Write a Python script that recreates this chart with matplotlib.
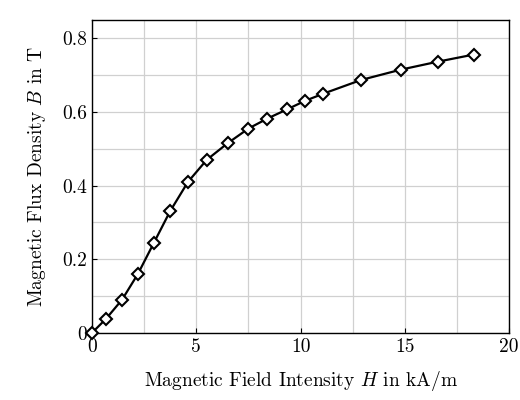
import matplotlib
matplotlib.use("Agg")
import matplotlib.pyplot as plt

# Data
H_kAm = [0, 0.67, 1.44, 2.2, 2.97, 3.74, 4.6, 5.5, 6.5, 7.5, 8.4, 9.35, 10.2, 11.1, 12.9, 14.8, 16.6, 18.3]
B_T = [0, 0.038, 0.09, 0.16, 0.245, 0.33, 0.41, 0.47, 0.515, 0.555, 0.582, 0.607, 0.63, 0.65, 0.687, 0.715, 0.737, 0.756]
x_ticks = [0, 5, 10, 15, 20]
y_ticks = [0, 0.2, 0.4, 0.6, 0.8]

plt.rcParams['font.family'] = 'serif'
plt.rcParams['font.serif'] = ['cmr10', 'DejaVu Serif']
plt.rcParams['mathtext.fontset'] = 'cm'
plt.rcParams['axes.formatter.use_mathtext'] = True

fig, ax = plt.subplots(figsize=(5.2, 4.0), dpi=100)
fig.subplots_adjust(left=0.177, right=0.979, top=0.95, bottom=0.168)

ax.plot(H_kAm, B_T, color='black', lw=1.6, marker='D', markersize=6,
        markerfacecolor='white', markeredgecolor='black', markeredgewidth=1.5,
        zorder=3, clip_on=False)

ax.set_xlim(0, 20)
ax.set_ylim(0, 0.85)
ax.set_xticks(x_ticks)
ax.set_xticklabels([str(v) for v in x_ticks])
ax.set_yticks(y_ticks)
ax.set_yticklabels(['0', '0.2', '0.4', '0.6', '0.8'])
ax.set_xticks([2.5, 7.5, 12.5, 17.5], minor=True)
ax.set_yticks([0.1, 0.3, 0.5, 0.7], minor=True)
ax.grid(True, which='both', color='#d0d0d0', lw=0.9)
ax.set_axisbelow(True)
ax.tick_params(which='both', direction='in', labelsize=14)
ax.tick_params(which='minor', length=0)
for s in ax.spines.values():
    s.set_linewidth(1.0)

ax.set_xlabel(r'Magnetic Field Intensity $H$ in kA/m', fontsize=14, labelpad=10)
ax.set_ylabel(r'Magnetic Flux Density $B$ in T', fontsize=14, labelpad=10)

fig.savefig('out.png', dpi=100)
